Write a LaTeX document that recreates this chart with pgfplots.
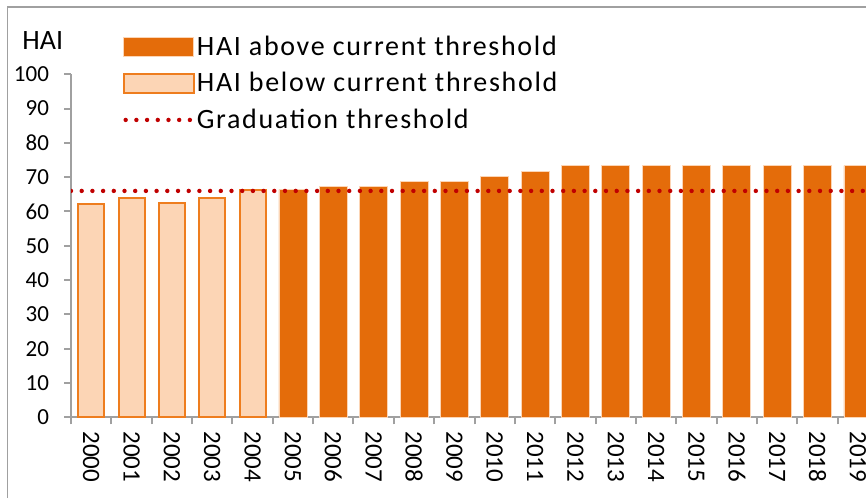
\documentclass[border=0pt]{standalone}
\usepackage{fontspec}
\setmainfont{Carlito}
\newfontfamily\legfont[LetterSpace=6]{Carlito}
\usepackage{pgfplots}
\pgfplotsset{compat=1.18}
\definecolor{darkor}{HTML}{E46C0A}
\definecolor{lightor}{HTML}{FCD5B5}
\definecolor{lightedge}{HTML}{EE7D1E}
\definecolor{thr}{HTML}{C00000}
\definecolor{axgray}{HTML}{A0A0A0}
\pgfplotsset{
  barleg/.style={legend image code/.code={\draw[##1] (0pt,-4.75pt) rectangle (35pt,4.75pt);}},
  lineleg/.style={legend image code/.code={\draw[##1] (1pt,0pt) -- (35pt,0pt);}},
}
\begin{document}
\begin{tikzpicture}
\useasboundingbox (0,0) rectangle (433pt,249pt);
\draw[axgray, line width=0.9pt] (3.7pt,0) -- (3.7pt,245.6pt) -- (433pt,245.6pt);
\node[anchor=base west, font=\fontsize{14}{16}\selectfont, inner sep=0pt] at (11pt,224pt) {HAI};
\begin{axis}[
  at={(35.5pt,40.35pt)}, anchor=south west,
  scale only axis, width=397.5pt, height=171.5pt,
  xmin=-0.5, xmax=19.2, ymin=0, ymax=100,
  axis x line*=bottom, axis y line*=left,
  axis line style={axgray, line width=1pt},
  ytick={0,10,...,100},
  xtick={0,...,19},
  xticklabels={2000,2001,2002,2003,2004,2005,2006,2007,2008,2009,2010,2011,2012,2013,2014,2015,2016,2017,2018,2019},
  minor xtick={-0.5,0.5,...,18.5},
  major x tick style={draw=none},
  tick style={axgray, line width=1pt},
  tick align=outside,
  major tick length=3.5pt,
  minor tick length=3.5pt,
  /pgf/number format/assume math mode=true,
  yticklabel style={font=\fontsize{11.5}{13}\selectfont, xshift=-4pt},
  xticklabel style={font=\fontsize{12.5}{14}\selectfont, rotate=-90, anchor=west, yshift=0pt},
  legend style={draw=none, fill=none, at={(0.0645,1.125)}, anchor=north west,
    font=\legfont\fontsize{14}{16}\selectfont, row sep=3pt, inner sep=0pt,
    /tikz/every odd column/.append style={column sep=-1.5pt}},
  legend cell align=left,
  clip=true,
]
\addplot[ybar, bar width=14pt, bar shift=0pt, fill=darkor, draw=lightor, line width=0.4pt, barleg]
  coordinates {(5,66.4) (6,67.3) (7,67.3) (8,68.7) (9,68.7) (10,70.3) (11,71.8) (12,73.4) (13,73.4) (14,73.4) (15,73.4) (16,73.4) (17,73.4) (18,73.4) (19,73.4)};
\addlegendentry{HAI above current threshold}
\addplot[ybar, bar width=13pt, bar shift=0pt, fill=lightor, draw=lightedge, line width=1pt, barleg]
  coordinates {(0,62.2) (1,63.8) (2,62.5) (3,63.8) (4,66.2)};
\addlegendentry{HAI below current threshold}
\addplot[thr, line width=2.2pt, line cap=round, dash pattern=on 0pt off 5.35pt, lineleg]
  coordinates {(-0.5,66) (19.2,66)};
\addlegendentry{Graduation threshold}
\end{axis}
\end{tikzpicture}
\end{document}
